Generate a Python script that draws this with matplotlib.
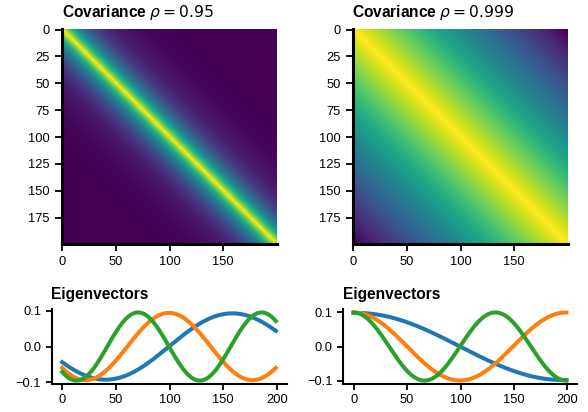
import numpy as np
import matplotlib
matplotlib.use("Agg")
import matplotlib.pyplot as plt

plt.rcParams["font.family"] = ["Liberation Sans", "DejaVu Sans"]
plt.rcParams["mathtext.fontset"] = "dejavusans"

# AR(1) covariance parameters and grid size
rhos = [0.95, 0.999]
n_points = 200
# orientation of the plotted eigenvectors (2nd, 3rd, 4th largest)
eig_signs = [[-1, -1, -1], [1, 1, 1]]
line_colors = ["#1f77b4", "#ff7f0e", "#2ca02c"]
x_ticks_img = [0, 50, 100, 150]
y_ticks_img = [0, 25, 50, 75, 100, 125, 150, 175]
x_ticks_vec = [0, 50, 100, 150, 200]
y_ticks_vec = [-0.1, 0.0, 0.1]

W, H = 588, 412
fig = plt.figure(figsize=(W / 100, H / 100), dpi=100)


def frac(x0, y0, x1, y1):
    return [x0 / W, 1 - y1 / H, (x1 - x0) / W, (y1 - y0) / H]


img_boxes = [frac(61, 29, 277, 244), frac(352, 29, 568, 244)]
vec_boxes = [frac(51.5, 309, 286.5, 384), frac(343, 309, 577, 384)]

idx = np.arange(n_points)
for k, rho in enumerate(rhos):
    cov = rho ** np.abs(idx[:, None] - idx[None, :])
    vals, vecs = np.linalg.eigh(cov)
    order = np.argsort(vals)[::-1]
    vecs = vecs[:, order]

    ax = fig.add_axes(img_boxes[k])
    ax.imshow(cov, cmap="viridis")
    ax.set_title(rf"Covariance $\rho = {rho}$", loc="left",
                 fontsize=11.2, fontweight="bold", pad=8.5)
    ax.set_xticks(x_ticks_img)
    ax.set_yticks(y_ticks_img)
    for s in ["top", "right"]:
        ax.spines[s].set_visible(False)
    for s in ["left", "bottom"]:
        ax.spines[s].set_linewidth(2.2)
    ax.tick_params(labelsize=9.3, length=5, width=1.3)

    axv = fig.add_axes(vec_boxes[k])
    for j in range(3):
        v = vecs[:, j + 1]
        v = v * np.sign(v[0]) * eig_signs[k][j]
        axv.plot(idx, v, color=line_colors[j], lw=2.9)
    axv.set_title("Eigenvectors", loc="left", fontsize=11.2,
                  fontweight="bold", pad=7)
    axv.set_xticks(x_ticks_vec)
    axv.set_yticks(y_ticks_vec)
    axv.set_yticklabels(["\u22120.1", "0.0", "0.1"])
    for s in ["top", "right"]:
        axv.spines[s].set_visible(False)
    for s in ["left", "bottom"]:
        axv.spines[s].set_linewidth(1.5)
    axv.tick_params(labelsize=9.3, length=4, width=1.3)

fig.savefig("out.png", dpi=100)
